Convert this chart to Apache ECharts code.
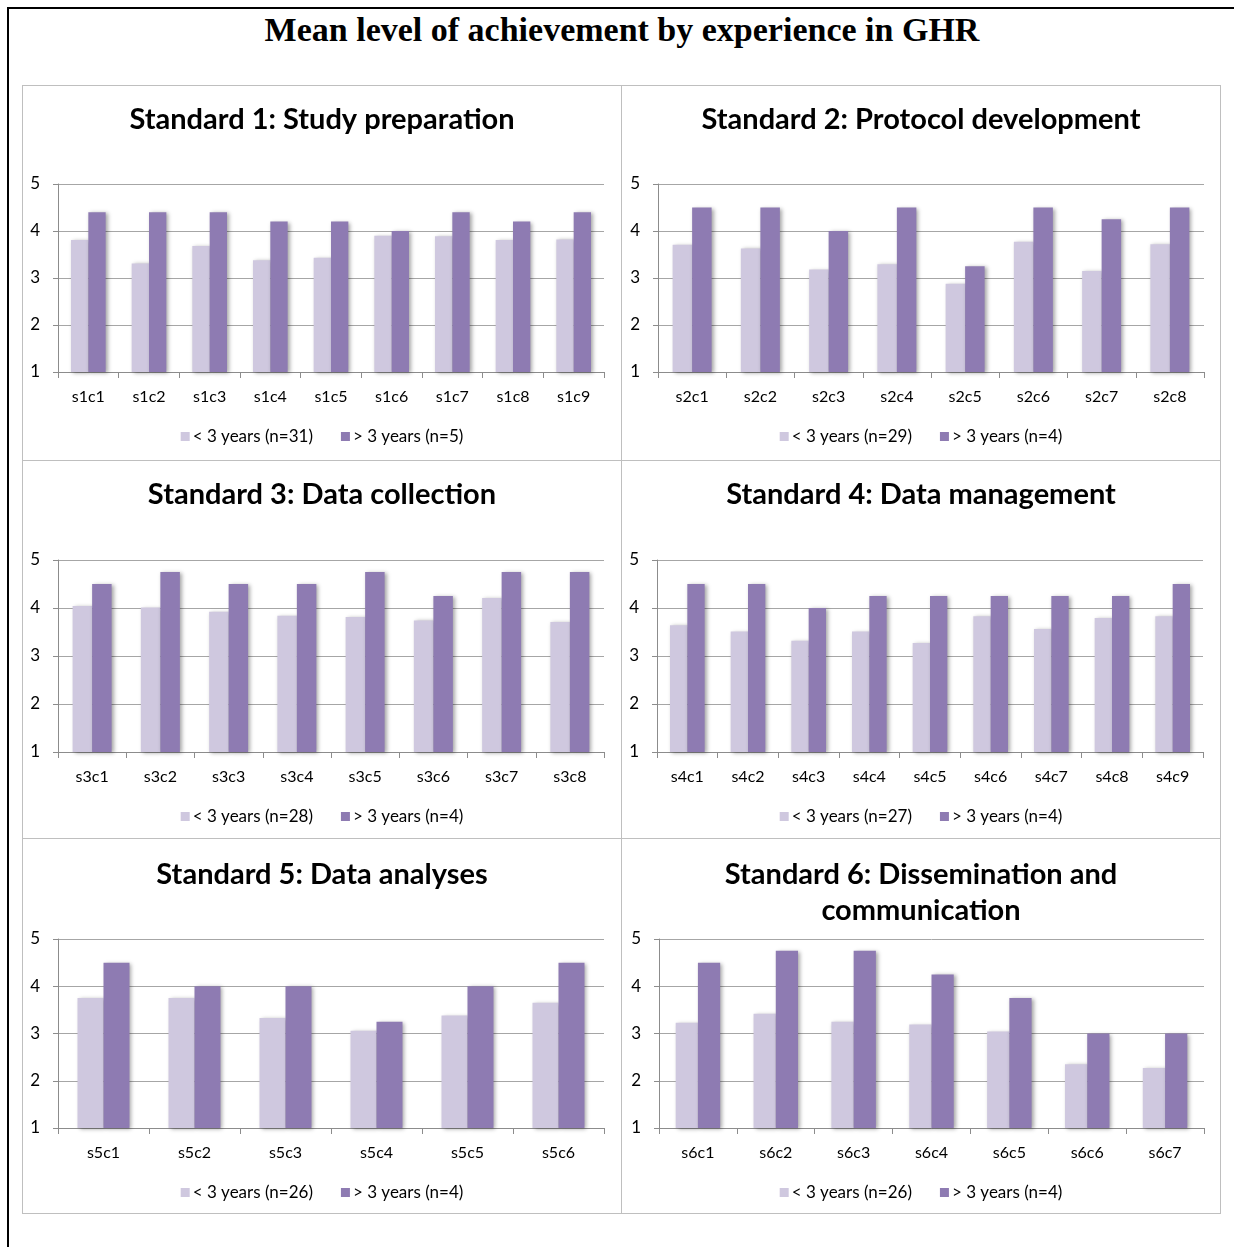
<!DOCTYPE html>
<html>
<head>
<meta charset="utf-8">
<title>Mean level of achievement by experience in GHR</title>
<script src="https://cdn.jsdelivr.net/npm/echarts@6/dist/echarts.min.js"></script>
<style>
  html, body { margin: 0; padding: 0; background: #ffffff; }
  body { width: 1234px; height: 1247px; position: relative; overflow: hidden; }
  #frame { position: absolute; left: 7px; top: 7px; width: 1400px; height: 1400px;
           border-top: 2px solid #000; border-left: 2px solid #000; box-sizing: border-box; }
  #mainTitle { position: absolute; left: 0; width: 1244px; top: 11px; text-align: center;
               font: bold 34px "Liberation Serif", "DejaVu Serif", serif; color: #000; line-height: 38px; }
  .panel { position: absolute; border: 1px solid #bfbfbf; box-sizing: border-box; background: #fff; }
  .panel .chart { position: absolute; left: 0; top: 0; right: 0; bottom: 0; }
</style>
</head>
<body>
<div id="frame"></div>
<div id="mainTitle">Mean level of achievement by experience in GHR</div>
<div id="panels"></div>
<script>
// ---- data ----
const titles = [
  'Standard 1: Study preparation',
  'Standard 2: Protocol development',
  'Standard 3: Data collection',
  'Standard 4: Data management',
  'Standard 5: Data analyses',
  'Standard 6: Dissemination and\ncommunication'
];

const s1Cats = ['s1c1','s1c2','s1c3','s1c4','s1c5','s1c6','s1c7','s1c8','s1c9'];
const s1Less = [3.81, 3.31, 3.68, 3.38, 3.43, 3.90, 3.89, 3.81, 3.82];
const s1More = [4.4, 4.4, 4.4, 4.2, 4.2, 4.0, 4.4, 4.2, 4.4];
const s1Names = ['< 3 years (n=31)', '> 3 years (n=5)'];

const s2Cats = ['s2c1','s2c2','s2c3','s2c4','s2c5','s2c6','s2c7','s2c8'];
const s2Less = [3.71, 3.63, 3.18, 3.29, 2.88, 3.77, 3.15, 3.72];
const s2More = [4.5, 4.5, 4.0, 4.5, 3.25, 4.5, 4.25, 4.5];
const s2Names = ['< 3 years (n=29)', '> 3 years (n=4)'];

const s3Cats = ['s3c1','s3c2','s3c3','s3c4','s3c5','s3c6','s3c7','s3c8'];
const s3Less = [4.04, 4.01, 3.92, 3.84, 3.81, 3.74, 4.21, 3.71];
const s3More = [4.5, 4.75, 4.5, 4.5, 4.75, 4.25, 4.75, 4.75];
const s3Names = ['< 3 years (n=28)', '> 3 years (n=4)'];

const s4Cats = ['s4c1','s4c2','s4c3','s4c4','s4c5','s4c6','s4c7','s4c8','s4c9'];
const s4Less = [3.64, 3.51, 3.32, 3.51, 3.27, 3.83, 3.56, 3.79, 3.83];
const s4More = [4.5, 4.5, 4.0, 4.25, 4.25, 4.25, 4.25, 4.25, 4.5];
const s4Names = ['< 3 years (n=27)', '> 3 years (n=4)'];

const s5Cats = ['s5c1','s5c2','s5c3','s5c4','s5c5','s5c6'];
const s5Less = [3.75, 3.75, 3.33, 3.06, 3.38, 3.65];
const s5More = [4.5, 4.0, 4.0, 3.25, 4.0, 4.5];
const s5Names = ['< 3 years (n=26)', '> 3 years (n=4)'];

const s6Cats = ['s6c1','s6c2','s6c3','s6c4','s6c5','s6c6','s6c7'];
const s6Less = [3.23, 3.42, 3.25, 3.19, 3.04, 2.35, 2.27];
const s6More = [4.5, 4.75, 4.75, 4.25, 3.75, 3.0, 3.0];
const s6Names = ['< 3 years (n=26)', '> 3 years (n=4)'];

const yTicks = [1, 2, 3, 4, 5];

// ---- layout (page pixels) ----
const layout = [
  { box: [22, 85, 600, 376],  grid: [58, 184, 546, 188],  titleY: 120, legendY: 433 },
  { box: [621, 85, 600, 376], grid: [658, 184, 546, 188], titleY: 120, legendY: 433 },
  { box: [22, 460, 600, 379], grid: [58, 560, 546, 192],  titleY: 495, legendY: 813 },
  { box: [621, 460, 600, 379],grid: [657, 560, 546, 192], titleY: 495, legendY: 813 },
  { box: [22, 838, 600, 376], grid: [58, 939, 546, 189],  titleY: 875, legendY: 1189 },
  { box: [621, 838, 600, 376],grid: [659, 939, 545, 189], titleY: 875, legendY: 1189 }
];

const panelData = [
  [s1Cats, s1Less, s1More, s1Names],
  [s2Cats, s2Less, s2More, s2Names],
  [s3Cats, s3Less, s3More, s3Names],
  [s4Cats, s4Less, s4More, s4Names],
  [s5Cats, s5Less, s5More, s5Names],
  [s6Cats, s6Less, s6More, s6Names]
];

const LIGHT = '#cfc8df';
const DARK = '#8e7bb2';
const AXIS = '#8c8c8c';
const GRID = '#a6a6a6';
const FONT = 'Lato, "Open Sans", "Liberation Sans", sans-serif';

const host = document.getElementById('panels');

panelData.forEach((pd, i) => {
  const [cats, less, more, names] = pd;
  const L = layout[i];
  const [bx, by, bw, bh] = L.box;
  const div = document.createElement('div');
  div.className = 'panel';
  div.style.left = bx + 'px';
  div.style.top = by + 'px';
  div.style.width = bw + 'px';
  div.style.height = bh + 'px';
  const inner = document.createElement('div');
  inner.className = 'chart';
  div.appendChild(inner);
  host.appendChild(div);

  const ox = bx + 1, oy = by + 1;
  const [gx, gy, gw, gh] = L.grid;

  const barStyle = (c) => ({
    color: c,
    shadowColor: 'rgba(0,0,0,0.35)',
    shadowBlur: 4,
    shadowOffsetX: 2,
    shadowOffsetY: 1
  });

  const chart = echarts.init(inner, null, { renderer: 'canvas' });
  chart.setOption({
    animation: false,
    textStyle: { fontFamily: FONT },
    title: {
      text: titles[i],
      left: 'center',
      top: L.titleY - oy - 18,
      padding: 0,
      textStyle: { fontFamily: FONT, fontWeight: 'bold', fontSize: 29, color: '#000', lineHeight: 36 }
    },
    legend: {
      data: names,
      left: 'center',
      top: L.legendY - oy - 10,
      itemWidth: 9,
      itemHeight: 9,
      itemGap: 28,
      icon: 'rect',
      textStyle: { fontFamily: FONT, fontSize: 17, color: '#000', padding: [0, 0, 0, -2] }
    },
    grid: { left: gx - ox, top: gy - oy, width: gw, height: gh, containLabel: false },
    xAxis: {
      type: 'category',
      data: cats,
      boundaryGap: true,
      axisLine: { show: true, lineStyle: { color: AXIS, width: 1 } },
      axisTick: { show: true, interval: 0, length: 6, lineStyle: { color: AXIS } },
      axisLabel: { interval: 0, margin: 17, fontFamily: FONT, fontSize: 16, color: '#000' },
      splitLine: { show: false }
    },
    yAxis: {
      type: 'value',
      min: yTicks[0],
      max: yTicks[yTicks.length - 1],
      interval: 1,
      axisLine: { show: true, lineStyle: { color: AXIS, width: 1 } },
      axisTick: { show: true, length: 5, lineStyle: { color: AXIS } },
      axisLabel: { margin: 18, fontFamily: FONT, fontSize: 17, color: '#000' },
      splitLine: { show: true, lineStyle: { color: GRID, width: 1 } }
    },
    series: [
      {
        name: names[0], type: 'bar', data: less,
        barGap: '0%', barCategoryGap: '42.86%',
        itemStyle: barStyle(LIGHT)
      },
      {
        name: names[1], type: 'bar', data: more,
        barGap: '0%', barCategoryGap: '42.86%',
        itemStyle: barStyle(DARK)
      }
    ]
  });
});
</script>
</body>
</html>
